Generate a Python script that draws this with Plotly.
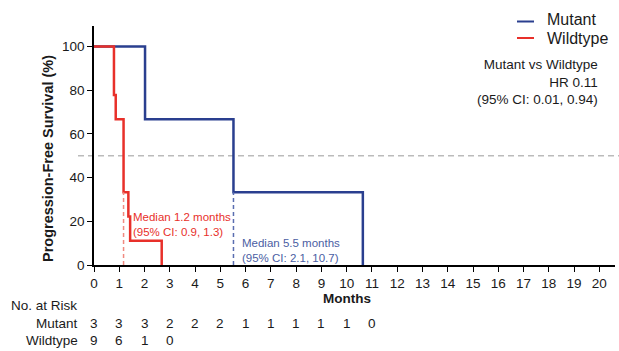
import plotly.graph_objects as go

# ---- data ----
mutant_time = [0, 2.02, 5.52, 10.64]
mutant_surv = [100, 66.7, 33.3, 0]
wild_time = [0, 0.79, 0.86, 1.17, 1.36, 1.43, 2.68]
wild_surv = [100, 77.8, 66.7, 33.3, 22.2, 11.1, 0]
mutant_median = 5.52
wild_median = 1.17
median_line_top = 33.3
risk_times = list(range(0, 12))
mutant_risk = [3, 3, 3, 2, 2, 2, 1, 1, 1, 1, 1, 0]
wild_risk = [9, 6, 1, 0]
x_ticks = list(range(0, 21))
y_ticks = [0, 20, 40, 60, 80, 100]

BLUE = "#2A3F8F"
RED = "#E8302A"
BLUE_TXT = "#4B5EA3"
RED_TXT = "#E8302A"
TXT = "#1a1a1a"
FONT = "Liberation Sans, Arial, sans-serif"

W, H = 619, 351
L, R, T, B = 94, 4, 26, 86
PW, PH = W - L - R, H - T - B


def px(x):
    return (x - L) / PW


def py(y):
    return (H - B - y) / PH


fig = go.Figure()
fig.add_trace(go.Scatter(x=mutant_time, y=mutant_surv, mode="lines", line_shape="hv",
                         line=dict(color=BLUE, width=2.5), name="Mutant", showlegend=False,
                         cliponaxis=False))
fig.add_trace(go.Scatter(x=wild_time, y=wild_surv, mode="lines", line_shape="hv",
                         line=dict(color=RED, width=2.5), name="Wildtype", showlegend=False,
                         cliponaxis=False))
fig.add_trace(go.Scatter(x=[wild_median, wild_median], y=[0, median_line_top], mode="lines",
                         line=dict(color="#F08A80", width=1.5, dash="4px,3px"), showlegend=False))
fig.add_trace(go.Scatter(x=[mutant_median, mutant_median], y=[0, median_line_top], mode="lines",
                         line=dict(color="#5A6DB0", width=1.5, dash="4px,3px"), showlegend=False))

shapes = [
    dict(type="line", xref="paper", yref="y", x0=px(78), x1=px(619), y0=50, y1=50,
         line=dict(color="#BBBBBB", width=1.5, dash="6px,4px"), layer="below"),
    dict(type="line", xref="paper", yref="paper", x0=px(517), x1=px(534), y0=py(21.5), y1=py(21.5),
         line=dict(color=BLUE, width=2)),
    dict(type="line", xref="paper", yref="paper", x0=px(517), x1=px(534), y0=py(38), y1=py(38),
         line=dict(color=RED, width=2)),
]

ann = []
ann.append(dict(text="Mutant", xref="paper", yref="paper", x=px(545), y=py(19), xanchor="left",
                yanchor="middle", showarrow=False, font=dict(size=16, color=TXT)))
ann.append(dict(text="Wildtype", xref="paper", yref="paper", x=px(545), y=py(38), xanchor="left",
                yanchor="middle", showarrow=False, font=dict(size=16, color=TXT)))
ann.append(dict(text="Mutant vs Wildtype<br>HR 0.11<br>(95% CI: 0.01, 0.94)", xref="paper",
                yref="paper", x=px(600), y=py(82), xanchor="right", yanchor="middle", align="right",
                showarrow=False, font=dict(size=13.5, color=TXT)))
ann.append(dict(text="Median 1.2 months<br>(95% CI: 0.9, 1.3)", xref="x", yref="paper",
                x=1.48, y=py(224), xanchor="left", yanchor="middle", align="left",
                showarrow=False, font=dict(size=11.5, color=RED_TXT)))
ann.append(dict(text="Median 5.5 months<br>(95% CI: 2.1, 10.7)", xref="x", yref="paper",
                x=5.77, y=py(250), xanchor="left", yanchor="middle", align="left",
                showarrow=False, font=dict(size=11.5, color=BLUE_TXT)))
ann.append(dict(text="<b>Months</b>", xref="x", yref="paper", x=10, y=py(298), xanchor="center",
                yanchor="middle", showarrow=False, font=dict(size=13.5, color=TXT)))
ann.append(dict(text="<b>Progression-Free Survival (%)</b>", xref="paper", yref="paper",
                x=px(48), y=py(159), xanchor="center", yanchor="middle", textangle=-90,
                showarrow=False, font=dict(size=14.5, color=TXT)))
ann.append(dict(text="No. at Risk", xref="paper", yref="paper", x=px(9), y=py(305),
                xanchor="left", yanchor="middle", showarrow=False, font=dict(size=13.5, color=TXT)))
ann.append(dict(text="Mutant", xref="paper", yref="paper", x=px(80), y=py(323),
                xanchor="right", yanchor="middle", showarrow=False, font=dict(size=13.5, color=TXT)))
ann.append(dict(text="Wildtype", xref="paper", yref="paper", x=px(80), y=py(340),
                xanchor="right", yanchor="middle", showarrow=False, font=dict(size=13.5, color=TXT)))
for t, n in zip(risk_times, mutant_risk):
    ann.append(dict(text=str(n), xref="x", yref="paper", x=t, y=py(323), xanchor="center",
                    yanchor="middle", showarrow=False, font=dict(size=13.5, color=TXT)))
for t, n in zip(risk_times, wild_risk):
    ann.append(dict(text=str(n), xref="x", yref="paper", x=t, y=py(340), xanchor="center",
                    yanchor="middle", showarrow=False, font=dict(size=13.5, color=TXT)))

fig.update_layout(
    width=W, height=H, margin=dict(l=L, r=R, t=T, b=B, autoexpand=False),
    plot_bgcolor="white", paper_bgcolor="white",
    font=dict(family=FONT, color=TXT),
    shapes=shapes, annotations=ann, showlegend=False,
    xaxis=dict(range=[0, 20.62], tickvals=x_ticks, showline=True, linecolor="black", linewidth=1.5,
               ticks="outside", ticklen=5, tickwidth=1, tickcolor="black", showgrid=False,
               zeroline=False, tickfont=dict(size=13.5, color=TXT)),
    yaxis=dict(range=[0, 109.4], tickvals=y_ticks, showline=True, linecolor="black", linewidth=1.5,
               ticks="outside", ticklen=5, tickwidth=1, tickcolor="black", showgrid=False,
               zeroline=False, tickfont=dict(size=13.5, color=TXT)),
)

fig.write_html("out.html")
